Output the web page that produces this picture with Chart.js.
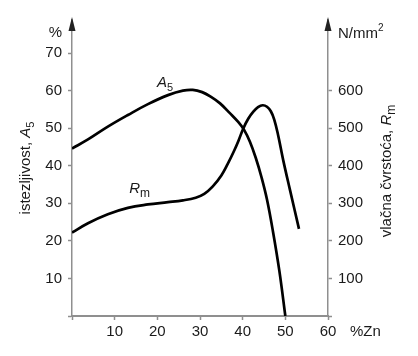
<!DOCTYPE html>
<html><head><meta charset="utf-8">
<script src="https://cdn.jsdelivr.net/npm/chart.js@4/dist/chart.umd.min.js"></script>
<style>html,body{margin:0;padding:0;background:#fff}#wrap{width:418px;height:356px;position:relative}</style>
</head><body><div id="wrap"><canvas id="c"></canvas></div>
<script>
// Zn content (%) and elongation A5 (%)
const a5Zn = [0, 3.75, 8.4, 13.1, 17.8, 22.5, 26, 28.3, 30.5, 32.5, 34.7, 37, 39, 40.3, 41.7, 43.1, 44.4, 45.7, 47.1, 48.6, 50];
const a5Values = [44.6, 47.0, 50.4, 53.5, 56.4, 58.8, 60.0, 60.2, 59.6, 58.4, 56.6, 54.0, 51.6, 49.6, 46.4, 42.0, 37.0, 31.0, 22.5, 12.0, 0];
// Zn content (%) and tensile strength Rm (N/mm2)
const rmZn = [0, 3.75, 8.4, 13.1, 17.8, 22.5, 26, 29, 31, 33, 35, 36.5, 38, 39, 40.1, 41.3, 42.5, 43.6, 44.7, 45.7, 46.6, 47.4, 48.3, 49.5, 51.1, 53.2];
const rmValues = [222, 247, 271, 288, 297, 303, 308, 315, 325, 345, 374, 405, 440, 466, 498, 525, 544, 556, 561, 557, 545, 523, 482, 415, 335, 232];
// tick labels
const xTicks = [10, 20, 30, 40, 50, 60];
const leftTicks = [10, 20, 30, 40, 50, 60, 70];
const rightTicks = [100, 200, 300, 400, 500, 600];

const FONT = '"Liberation Sans", Arial, sans-serif';
const AXIS = '#8f8f8f';
const TXT = '#1a1a1a';

function rich(ctx, parts, x, y, align) {
  const fonts = parts.map(p => `${p.i ? 'italic ' : ''}${p.s}px ${FONT}`);
  let w = 0;
  const ws = parts.map((p, k) => { ctx.font = fonts[k]; const m = ctx.measureText(p.t).width; w += m; return m; });
  let cx = align === 'center' ? x - w / 2 : align === 'right' ? x - w : x;
  parts.forEach((p, k) => {
    ctx.font = fonts[k]; ctx.textAlign = 'left'; ctx.textBaseline = 'alphabetic';
    ctx.fillText(p.t, cx, y + (p.dy || 0)); cx += ws[k];
  });
}

const annot = {
  id: 'annot',
  afterDraw(chart) {
    const { ctx, chartArea: ca, scales: { x, yL } } = chart;
    ctx.save();
    ctx.fillStyle = '#222';
    [ca.left, ca.right].forEach(px => {
      ctx.beginPath(); ctx.moveTo(px, ca.top - 3); ctx.lineTo(px - 3.5, ca.top + 11); ctx.lineTo(px + 3.5, ca.top + 11); ctx.closePath(); ctx.fill();
    });
    ctx.fillStyle = TXT;
    rich(ctx, [{ t: '%', s: 15 }], ca.left - 10, ca.top + 17, 'right');
    rich(ctx, [{ t: 'N/mm', s: 15 }, { t: '2', s: 10, dy: -7 }], ca.right + 10, ca.top + 18, 'left');
    rich(ctx, [{ t: '%Zn', s: 15 }], ca.right + 22, ca.bottom + 20, 'left');
    // curve labels
    rich(ctx, [{ t: 'A', s: 15, i: true }, { t: '5', s: 11, dy: 4 }], x.getPixelForValue(19.9), yL.getPixelForValue(61), 'left');
    rich(ctx, [{ t: 'R', s: 15, i: true }, { t: 'm', s: 12, dy: 4 }], x.getPixelForValue(13.4), yL.getPixelForValue(32.7), 'left');
    const mid = (ca.top + ca.bottom) / 2;
    ctx.save(); ctx.translate(25, mid); ctx.rotate(-Math.PI / 2);
    rich(ctx, [{ t: 'istezljivost, ', s: 15 }, { t: 'A', s: 15, i: true }, { t: '5', s: 11, dy: 4 }], 0, 5, 'center');
    ctx.restore();
    ctx.save(); ctx.translate(386, mid + 3); ctx.rotate(-Math.PI / 2);
    rich(ctx, [{ t: 'vlačna čvrstoća, ', s: 15 }, { t: 'R', s: 15, i: true }, { t: 'm', s: 12, dy: 4 }], 0, 5, 'center');
    ctx.restore();
    ctx.restore();
  }
};

const gridCfg = { drawOnChartArea: false, drawTicks: true, tickLength: 4, tickColor: AXIS, tickWidth: 1.5 };
const tickFont = { family: FONT, size: 15 };

new Chart(document.getElementById('c'), {
  type: 'line',
  data: {
    datasets: [
      { data: a5Zn.map((v, i) => ({ x: v, y: a5Values[i] })), yAxisID: 'yL', borderColor: '#000', borderWidth: 2.7, pointRadius: 0, tension: 0.4, fill: false },
      { data: rmZn.map((v, i) => ({ x: v, y: rmValues[i] })), yAxisID: 'yR', borderColor: '#000', borderWidth: 2.7, pointRadius: 0, tension: 0.4, fill: false }
    ]
  },
  options: {
    responsive: true, maintainAspectRatio: false, animation: false,
    layout: { padding: { top: 20, left: 0, right: 0, bottom: 0 } },
    plugins: { legend: { display: false }, tooltip: { enabled: false } },
    scales: {
      x: {
        type: 'linear', position: 'bottom', min: 0, max: 60,
        border: { color: AXIS, width: 2 }, grid: gridCfg,
        afterBuildTicks: s => { s.ticks = [0, ...xTicks].map(v => ({ value: v })); },
        afterFit: s => { s.height = 40; },
        ticks: { color: TXT, font: tickFont, padding: 3, maxRotation: 0, callback: v => (xTicks.includes(v) ? String(v) : '') }
      },
      yL: {
        type: 'linear', position: 'left', min: 0, max: 78.8,
        border: { color: AXIS, width: 1.5 }, grid: gridCfg,
        afterBuildTicks: s => { s.ticks = [0, ...leftTicks].map(v => ({ value: v })); },
        afterFit: s => { s.width = 72; },
        ticks: { color: TXT, font: tickFont, padding: 6, callback: v => (leftTicks.includes(v) ? String(v) : '') }
      },
      yR: {
        type: 'linear', position: 'right', min: 0, max: 788,
        border: { color: AXIS, width: 1.5 }, grid: gridCfg,
        afterBuildTicks: s => { s.ticks = [0, ...rightTicks].map(v => ({ value: v })); },
        afterFit: s => { s.width = 90; },
        ticks: { color: TXT, font: tickFont, padding: 6, callback: v => (rightTicks.includes(v) ? String(v) : '') }
      }
    }
  },
  plugins: [annot]
});
</script>
</body></html>
